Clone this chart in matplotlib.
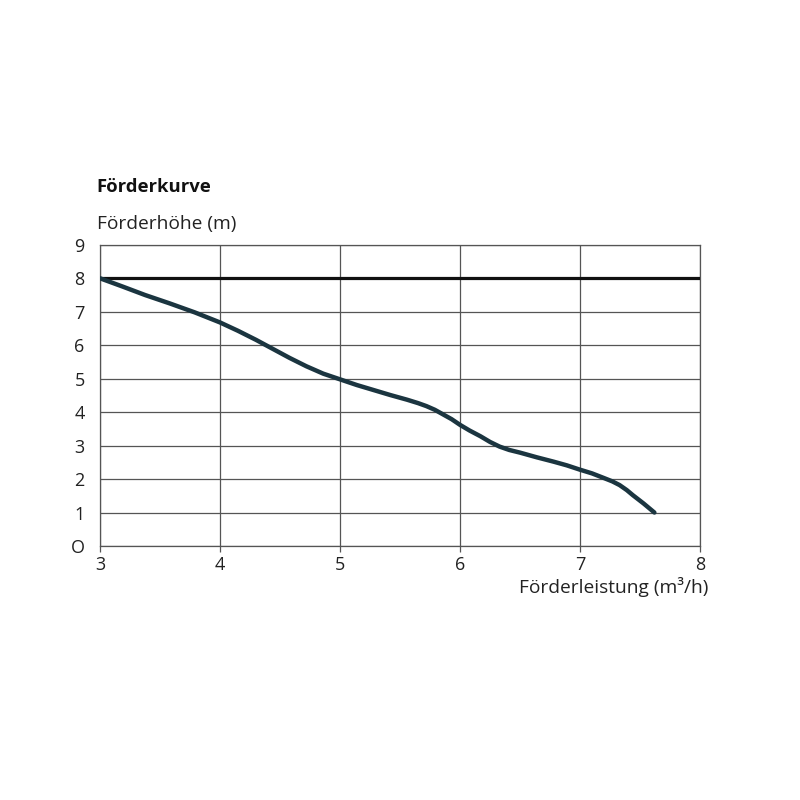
import matplotlib
matplotlib.use("Agg")
import matplotlib.pyplot as plt

plt.rcParams['font.family'] = ['Open Sans', 'DejaVu Sans']

# pump curve
flow = [3.0, 3.19, 3.375, 3.58, 3.79, 4.0, 4.15, 4.3, 4.44, 4.58, 4.72, 4.86,
        5.0, 5.14, 5.28, 5.42, 5.56, 5.65, 5.72, 5.79, 5.85, 5.93, 6.0, 6.08,
        6.17, 6.25, 6.33, 6.41, 6.5, 6.64, 6.78, 6.89, 7.0, 7.1, 7.2, 7.27,
        7.33, 7.39, 7.44, 7.53, 7.62]
head = [8.0, 7.75, 7.5, 7.25, 6.98, 6.68, 6.43, 6.16, 5.89, 5.62, 5.37, 5.15,
        4.98, 4.81, 4.66, 4.51, 4.37, 4.27, 4.18, 4.07, 3.95, 3.79, 3.62, 3.45,
        3.28, 3.11, 2.97, 2.87, 2.79, 2.65, 2.52, 2.41, 2.28, 2.17, 2.03, 1.93,
        1.82, 1.67, 1.52, 1.27, 1.0]
max_head = 8.0

xticks = [3, 4, 5, 6, 7, 8]
yticks = list(range(0, 10))
ytick_labels = ['O', '1', '2', '3', '4', '5', '6', '7', '8', '9']

fig = plt.figure(figsize=(8, 8), dpi=100)
ax = fig.add_axes([0.125, 0.3175, 0.75, 0.3765])

ax.plot(flow, head, color='#1b3540', linewidth=3.2, solid_capstyle='round',
        solid_joinstyle='round', zorder=4)
ax.axhline(max_head, color='#111111', linewidth=2.3, zorder=3)

ax.set_xlim(3, 8)
ax.set_ylim(0, 9)
ax.set_xticks(xticks)
ax.set_yticks(yticks)
ax.set_yticklabels(ytick_labels)
ax.grid(True, color='#555555', linewidth=0.9)
for s in ax.spines.values():
    s.set_color('#555555')
    s.set_linewidth(0.9)
ax.tick_params(axis='x', length=4, width=0.9, color='#555555', labelsize=13, pad=3,
               labelcolor='#222222')
ax.tick_params(axis='y', length=0, labelsize=13, pad=11, labelcolor='#222222')

fig.text(0.121, 0.766, 'Förderkurve', fontsize=13.3, fontweight='bold', ha='left', va='center',
         color='#111111')
fig.text(0.121, 0.72, 'Förderhöhe (m)', fontsize=13.8, ha='left', va='center', color='#222222')
fig.text(0.886, 0.266, 'Förderleistung (m³/h)', fontsize=13.8, ha='right', va='center',
         color='#222222')

fig.savefig('out.png', dpi=100)
